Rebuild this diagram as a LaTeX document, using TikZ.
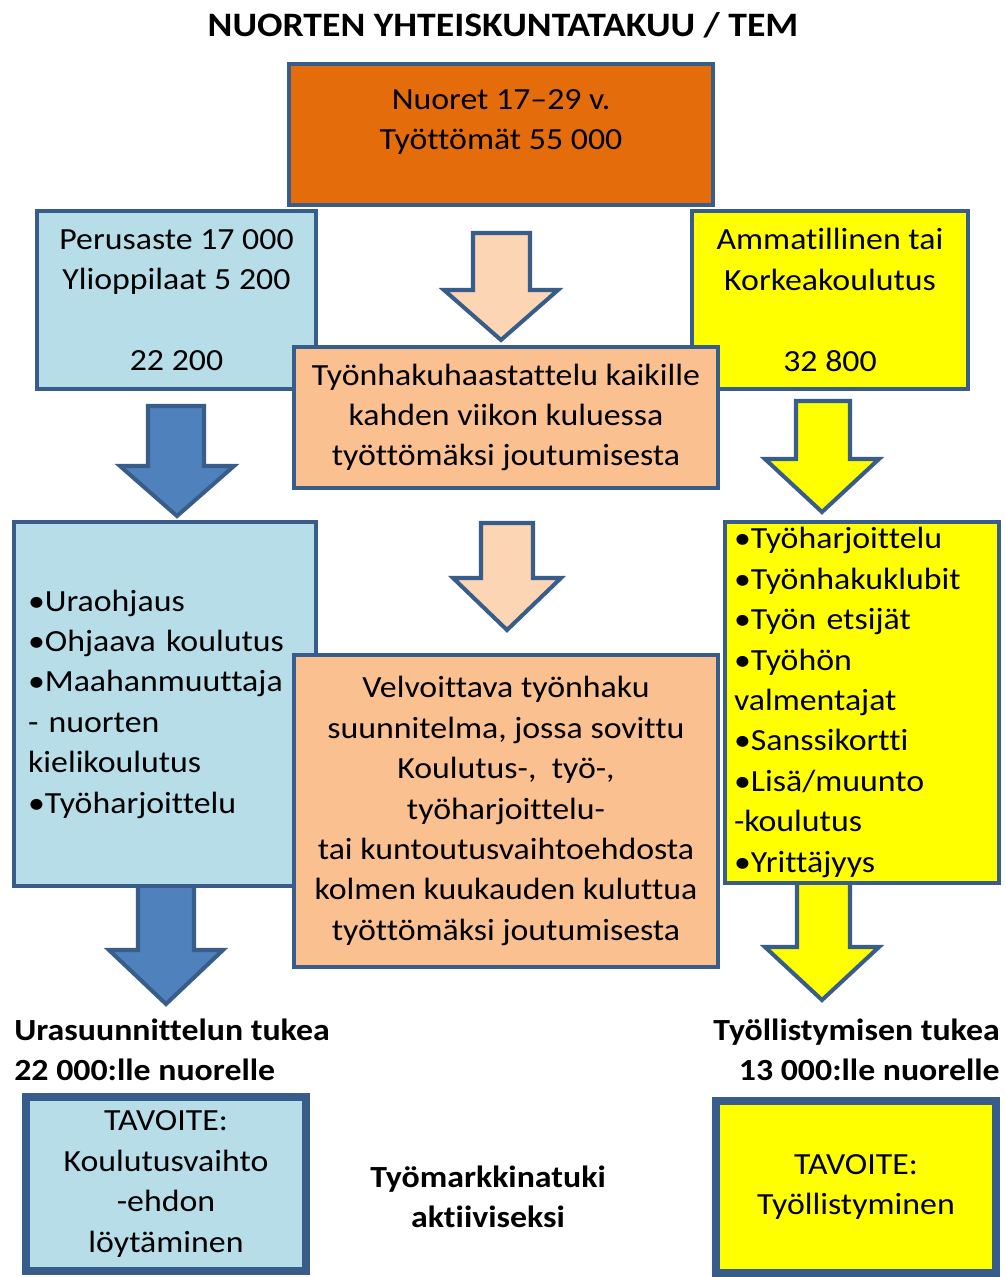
\documentclass[tikz,border=0pt]{standalone}
\usepackage{fontspec}
\setmainfont{Carlito}[FakeStretch=1.1, Ligatures={NoCommon}]

\definecolor{frame}{HTML}{385D8A}
\definecolor{topfill}{HTML}{E46C0A}
\definecolor{lblue}{HTML}{B7DEE8}
\definecolor{lyellow}{HTML}{FFFF00}
\definecolor{peach}{HTML}{FAC090}
\definecolor{lpeach}{HTML}{FCD5B5}
\definecolor{arrowblue}{HTML}{4F81BD}

\begin{document}
\begin{tikzpicture}[x=0.02cm, y=-0.02cm,
	box/.style={draw=frame, line width=2.3pt, align=center, inner sep=0pt, font=\fontsize{17.5}{23}\selectfont},
	goal/.style={box, line width=4.5pt},
	txt/.style={align=center, inner sep=0pt, font=\fontsize{17.5}{23}\selectfont},
	boldtxt/.style={inner sep=0pt, font=\bfseries\fontsize{17.5}{23}\selectfont},
	blockarrow/.style={draw=frame, line width=2.3pt, line join=miter}]

	\useasboundingbox (0,0) rectangle (1005,1277);

	\node[font=\bfseries\fontsize{19.5}{24}\selectfont, inner sep=0pt] (title) at (503,25) {NUORTEN YHTEISKUNTATAKUU / TEM};

	% arrows first, boxes on top of them
	\draw[blockarrow, fill=lpeach] (473,233) -- (530,233) -- (530,290) -- (558,290) -- (501,340) -- (444,290) -- (473,290) -- cycle;
	\draw[blockarrow, fill=arrowblue] (148,406) -- (204,406) -- (204,466) -- (234,466) -- (177,516) -- (120,466) -- (148,466) -- cycle;
	\draw[blockarrow, fill=lyellow] (796,401) -- (850,401) -- (850,459) -- (879,459) -- (822,512) -- (765,459) -- (796,459) -- cycle;
	\draw[blockarrow, fill=lpeach] (481,523) -- (533,523) -- (533,578) -- (561,578) -- (507,630) -- (453,578) -- (481,578) -- cycle;
	\draw[blockarrow, fill=arrowblue] (138,880) -- (194,880) -- (194,950) -- (223,950) -- (166,1004) -- (109,950) -- (138,950) -- cycle;
	\draw[blockarrow, fill=lyellow] (797,880) -- (850,880) -- (850,947) -- (879,947) -- (822,1000) -- (765,947) -- (797,947) -- cycle;

	\node[box, fill=lblue, minimum width=5.58cm, minimum height=3.56cm] (perus) at (176.5,300) {Perusaste 17 000\\Ylioppilaat 5 200\\[23pt]22 200};
	\node[box, fill=lyellow, minimum width=5.52cm, minimum height=3.56cm] (ammat) at (830,300) {Ammatillinen tai\\Korkeakoulutus\\[23pt]32 800};
	\node[box, fill=topfill, minimum width=8.48cm, minimum height=2.82cm] (nuoret) at (501,134.5) {};
	\node[txt] (nuoretTxt) at (501,122) {Nuoret 17–29 v.\\Työttömät 55 000};
	\node[box, fill=peach, minimum width=8.48cm, minimum height=2.82cm] (haastattelu) at (506,417.5) {Työnhakuhaastattelu kaikille\\kahden viikon kuluessa\\työttömäksi joutumisesta};

	\node[box, fill=lblue, align=left, text width=5.48cm, inner xsep=0.28cm, minimum height=7.28cm] (urapalvelut) at (165,704) {•Uraohjaus\\•Ohjaava koulutus\\•Maahanmuuttaja\\- nuorten\\kielikoulutus\\•Työharjoittelu};
	\node[box, fill=lyellow, align=left, text width=5.12cm, inner xsep=0.18cm, minimum height=7.22cm] (tyopalvelut) at (862,702.5) {•Työharjoittelu\\•Työnhakuklubit\\•Työn etsijät\\•Työhön\\valmentajat\\•Sanssikortti\\•Lisä/muunto\\-koulutus\\•Yrittäjyys};
	\node[box, fill=peach, minimum width=8.48cm, minimum height=6.24cm] (suunnitelma) at (506,811) {Velvoittava työnhaku\\suunnitelma, jossa sovittu\\Koulutus-,\ \ työ-,\\työharjoittelu-\\tai kuntoutusvaihtoehdosta\\kolmen kuukauden kuluttua\\työttömäksi joutumisesta};

	\node[boldtxt, align=left, anchor=west] (uratuki) at (14,1050) {Urasuunnittelun tukea\\22 000:lle nuorelle};
	\node[boldtxt, align=right, anchor=east] (tyotuki) at (1000,1050) {Työllistymisen tukea\\13 000:lle nuorelle};

	\node[goal, fill=lblue, minimum width=5.6cm, minimum height=3.48cm] (tavoite1) at (166,1184) {TAVOITE:\\Koulutusvaihto\\-ehdon\\löytäminen};
	\node[goal, fill=lyellow, minimum width=5.6cm, minimum height=3.44cm] (tavoite2) at (856,1187) {TAVOITE:\\Työllistyminen};
	\node[boldtxt, align=center] (tukiTxt) at (488,1197) {Työmarkkinatuki\\aktiiviseksi};
\end{tikzpicture}
\end{document}
